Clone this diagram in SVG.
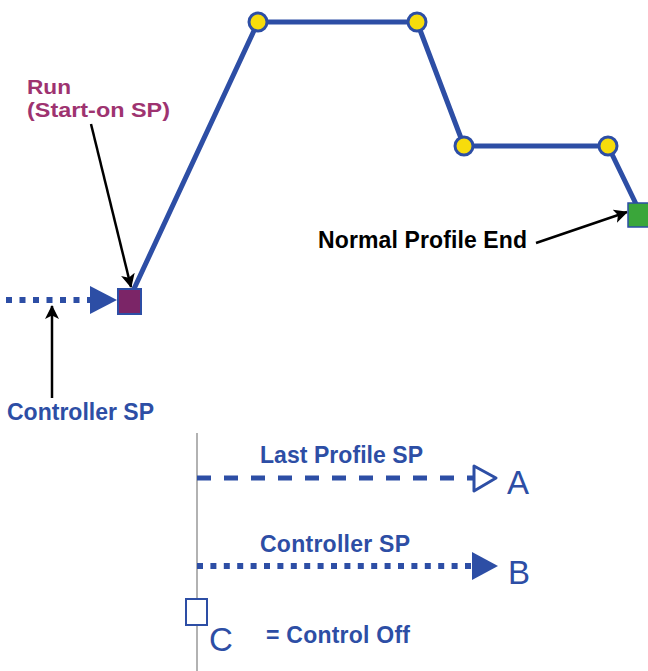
<svg xmlns="http://www.w3.org/2000/svg" width="648" height="671" viewBox="0 0 648 671">
<defs>
<style>
.t{font-family:"Liberation Sans",Arial,sans-serif;font-weight:bold;font-size:23px}
.s{font-size:21px}
.blue{fill:#2d4ea5}
.mag{fill:#9e3370}
.blk{fill:#000}
.let{font-family:"Liberation Sans",Arial,sans-serif;font-size:33px;fill:#2d4ea5}
.prof{fill:none;stroke:#2d4ea5;stroke-width:5;stroke-linejoin:round}
.pt{fill:#f7dc0c;stroke:#2d4ea5;stroke-width:3}
.call{stroke:#000;stroke-width:2.5;fill:none}
</style>
<marker id="ah" viewBox="0 0 14 14" refX="13" refY="7" markerWidth="14" markerHeight="14" markerUnits="userSpaceOnUse" orient="auto">
<path d="M0,0 L14,7 L0,14 L3.5,7 Z" fill="#000"/>
</marker>
</defs>
<rect width="648" height="671" fill="#fff"/>
<g id="connectors">
<polyline class="prof" points="133,291 258,22 417,22 464,146 608,146 637,206"/>
<line x1="6" y1="300" x2="90" y2="300" stroke="#2d4ea5" stroke-width="6" stroke-dasharray="6 7.5"/>
<polygon points="90,286 117,300 90,314" fill="#2d4ea5"/>
<line class="call" x1="91" y1="124" x2="131" y2="287" marker-end="url(#ah)"/>
<line class="call" x1="52" y1="398" x2="52" y2="306" marker-end="url(#ah)"/>
<line class="call" x1="536" y1="243" x2="627" y2="212" marker-end="url(#ah)"/>
<line x1="197" y1="433" x2="197" y2="671" stroke="#999" stroke-width="1.5"/>
<line x1="197" y1="478" x2="474" y2="478" stroke="#2d4ea5" stroke-width="5" stroke-dasharray="14 13"/>
<polygon points="474,466 496,478 474,491" fill="#fff" stroke="#2d4ea5" stroke-width="3" stroke-linejoin="round"/>
<line x1="197" y1="566" x2="472" y2="566" stroke="#2d4ea5" stroke-width="6" stroke-dasharray="6 7.4"/>
<polygon points="472,552 498,566 472,580" fill="#2d4ea5"/>
</g>
<g id="run-node">
<rect x="118" y="289" width="23" height="25" fill="#7b2567" stroke="#2d4ea5" stroke-width="2"/>
</g>
<g id="points">
<circle class="pt" cx="258" cy="22" r="9"/>
<circle class="pt" cx="417" cy="22" r="9"/>
<circle class="pt" cx="464" cy="146" r="9"/>
<circle class="pt" cx="608" cy="146" r="9"/>
</g>
<g id="end-node">
<rect x="628" y="203" width="24" height="24" fill="#3aa63a" stroke="#2d4ea5" stroke-width="1.5"/>
</g>
<g id="labels">
<text class="t s mag" x="27" y="94" textLength="44" lengthAdjust="spacingAndGlyphs">Run</text>
<text class="t s mag" x="27" y="117" textLength="143" lengthAdjust="spacingAndGlyphs">(Start-on SP)</text>
<text class="t blk" x="318" y="248" textLength="209">Normal Profile End</text>
<text class="t blue" x="7" y="420" textLength="147">Controller SP</text>
</g>
<g id="legend">
<text class="t blue" x="260" y="463" textLength="163">Last Profile SP</text>
<text class="let" x="507" y="494">A</text>
<text class="t blue" x="260" y="552" textLength="150">Controller SP</text>
<text class="let" x="508" y="584">B</text>
<rect x="186" y="599" width="21" height="26" fill="#fff" stroke="#2d4ea5" stroke-width="2"/>
<text class="let" x="209" y="651">C</text>
<text class="t blue" x="266" y="643" textLength="144">= Control Off</text>
</g>
</svg>
